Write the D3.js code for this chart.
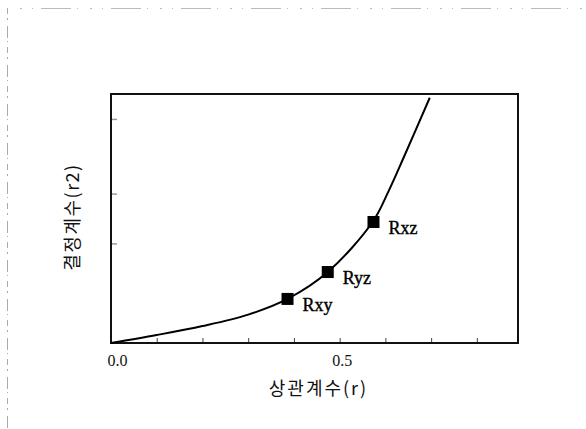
<!DOCTYPE html>
<html>
<head>
<meta charset="utf-8">
<script src="https://cdn.jsdelivr.net/npm/d3@7"></script>
<style>
  html, body { margin: 0; padding: 0; background: #fff; }
  svg { display: block; }
</style>
</head>
<body>
<svg id="chart" width="586" height="429"></svg>
<script>
// Curve (r on x, r2 on y, y in plot-height units)
const curveR = [0, 0.10, 0.20, 0.30, 0.386, 0.474, 0.572, 0.607, 0.640, 0.697];
const curveY = [0, 0.032, 0.068, 0.114, 0.177, 0.285, 0.486, 0.610, 0.745, 0.985];

// Labelled points
const pointNames = ['Rxy', 'Ryz', 'Rxz'];
const pointR = [0.386, 0.474, 0.574];
const pointY = [0.177, 0.285, 0.486];

// Axis ticks
const xTicks = [0, 0.1, 0.2, 0.3, 0.4, 0.5, 0.6, 0.7, 0.8];
const xTickLabels = { 0: '0.0', 0.5: '0.5' };
const yTicks = [0.4, 0.6, 0.9];

const xTitle = '상관계수(r)';
const yTitle = '결정계수(r2)';

const svg = d3.select('#chart');

// Plot box
const plotLeft = 111, plotRight = 518, plotTop = 94, plotBottom = 343;

const xScale = d3.scaleLinear().domain([0, 0.89]).range([plotLeft, plotRight]);
const yScale = d3.scaleLinear().domain([0, 1]).range([plotBottom, plotTop]);

// Faint scan frame on the page edge
svg.append('line')
  .attr('x1', 7.5).attr('x2', 7.5).attr('y1', 8).attr('y2', 429)
  .attr('stroke', '#aaa').attr('stroke-width', 1)
  .attr('stroke-dasharray', '6 4 2 6 12 3 1 5');
svg.append('line')
  .attr('x1', 20).attr('x2', 586).attr('y1', 8.5).attr('y2', 8.5)
  .attr('stroke', '#bbb').attr('stroke-width', 1)
  .attr('stroke-dasharray', '2 10 1 8 30 6 1 12');

// Bottom axis: ticks pointing up into the plot
const xAxis = svg.append('g')
  .attr('transform', `translate(0, ${plotBottom})`)
  .call(d3.axisBottom(xScale)
    .tickValues(xTicks)
    .tickSize(-5)
    .tickFormat(d => xTickLabels[d] || ''));
xAxis.select('.domain').remove();
xAxis.selectAll('.tick line').attr('stroke', '#444').attr('stroke-width', 1);
xAxis.selectAll('.tick text')
  .attr('y', 12)
  .attr('dx', d => d === 0 ? 6 : 2)
  .attr('fill', '#111')
  .style('font-family', '"Liberation Serif", "DejaVu Serif", serif')
  .style('font-size', '16px');

// Left axis: small grey ticks pointing right, no labels
const yAxis = svg.append('g')
  .attr('transform', `translate(${plotLeft}, 0)`)
  .call(d3.axisLeft(yScale).tickValues(yTicks).tickSize(-6).tickFormat(''));
yAxis.select('.domain').remove();
yAxis.selectAll('.tick line').attr('stroke', '#999').attr('stroke-width', 1.5);

// Frame
svg.append('rect')
  .attr('x', plotLeft).attr('y', plotTop)
  .attr('width', plotRight - plotLeft).attr('height', plotBottom - plotTop)
  .attr('fill', 'none')
  .attr('stroke', '#111')
  .attr('stroke-width', 2);

// Curve
const line = d3.line()
  .x((d, i) => xScale(curveR[i]))
  .y(d => yScale(d))
  .curve(d3.curveCatmullRom.alpha(0.5));
svg.append('path')
  .datum(curveY)
  .attr('d', line)
  .attr('fill', 'none')
  .attr('stroke', '#000')
  .attr('stroke-width', 2);

// Markers and labels
const size = 12;
const pts = svg.append('g');
pts.selectAll('rect')
  .data(pointNames)
  .enter()
  .append('rect')
    .attr('x', (d, i) => xScale(pointR[i]) - size / 2)
    .attr('y', (d, i) => yScale(pointY[i]) - size / 2)
    .attr('width', size)
    .attr('height', size)
    .attr('fill', '#000');
pts.selectAll('text')
  .data(pointNames)
  .enter()
  .append('text')
    .attr('x', (d, i) => xScale(pointR[i]) + 15)
    .attr('y', (d, i) => yScale(pointY[i]) + 12)
    .attr('fill', '#000')
    .attr('stroke', '#000')
    .attr('stroke-width', 0.4)
    .style('font-family', '"Liberation Serif", "DejaVu Serif", serif')
    .style('font-size', '18px')
    .text(d => d);

// Axis titles
svg.append('text')
  .attr('x', (plotLeft + plotRight) / 2 + 4)
  .attr('y', 395)
  .attr('text-anchor', 'middle')
  .attr('fill', '#111')
  .style('font-family', '"Noto Sans CJK KR", sans-serif')
  .style('font-size', '18px')
  .style('letter-spacing', '2px')
  .text(xTitle);
svg.append('text')
  .attr('transform', `translate(79, 217) rotate(-90)`)
  .attr('text-anchor', 'middle')
  .attr('fill', '#111')
  .style('font-family', '"Noto Sans CJK KR", sans-serif')
  .style('font-size', '18px')
  .style('letter-spacing', '1.5px')
  .text(yTitle);
</script>
</body>
</html>
